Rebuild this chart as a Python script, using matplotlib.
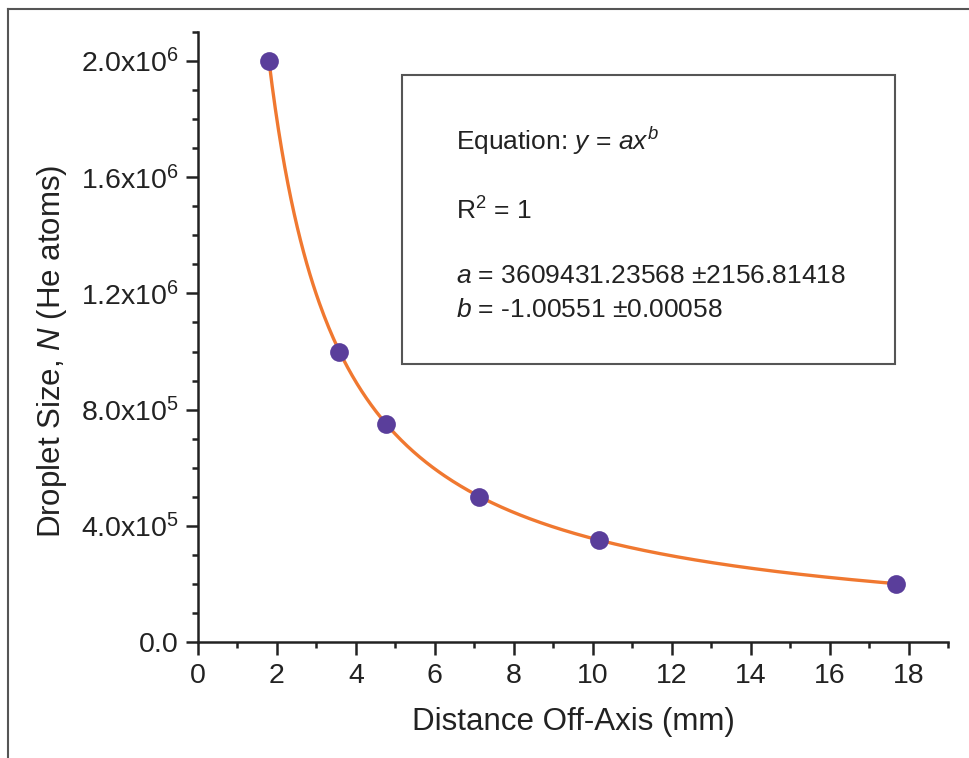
import numpy as np
import matplotlib
matplotlib.use("Agg")
import matplotlib.pyplot as plt
from matplotlib.ticker import MultipleLocator, FuncFormatter
from matplotlib.lines import Line2D
from matplotlib.patches import Rectangle

plt.rcParams["font.family"] = ["Liberation Sans", "DejaVu Sans"]
plt.rcParams["mathtext.fontset"] = "custom"
plt.rcParams["mathtext.rm"] = "Liberation Sans"
plt.rcParams["mathtext.it"] = "Liberation Sans:italic"
plt.rcParams["mathtext.bf"] = "Liberation Sans:bold"

# Measured droplet sizes vs. off-axis distance
distance_mm = [1.80, 3.57, 4.76, 7.12, 10.16, 17.68]
droplet_size = [2.0e6, 1.0e6, 7.5e5, 5.0e5, 3.5e5, 2.0e5]

# Power-law fit y = a * x^b
fit_a = 3609431.23568
fit_a_err = 2156.81418
fit_b = -1.00551
fit_b_err = 0.00058
fit_r2 = 1

W, H = 970, 758
fig = plt.figure(figsize=(W / 100, H / 100), dpi=100)

def fx(px):
    return px / W

def fy(py):
    return 1 - py / H

ax = fig.add_axes([fx(198), fy(642), fx(948) - fx(198), fy(32) - fy(642)])

xfit = np.linspace(min(distance_mm), max(distance_mm), 400)
yfit = fit_a * xfit ** fit_b
ax.plot(xfit, yfit, color="#F07830", lw=2.4, zorder=2)
ax.plot(distance_mm, droplet_size, "o", color="#5A3E9B", ms=13.5,
        mec="none", zorder=3)

ax.set_xlim(0, 19)
ax.set_ylim(0, 2.1e6)
ax.xaxis.set_major_locator(MultipleLocator(2))
ax.xaxis.set_minor_locator(MultipleLocator(1))
ax.yaxis.set_major_locator(MultipleLocator(4e5))
ax.yaxis.set_minor_locator(MultipleLocator(1e5))


def sci_fmt(v, pos):
    if abs(v) < 1:
        return "0.0"
    exp = int(np.floor(np.log10(abs(v))))
    mant = v / 10 ** exp
    return f"{mant:.1f}x10$^{{{exp}}}$"


ax.yaxis.set_major_formatter(FuncFormatter(sci_fmt))

for side in ("top", "right"):
    ax.spines[side].set_visible(False)
for side in ("left", "bottom"):
    ax.spines[side].set_linewidth(1.8)
    ax.spines[side].set_color("#222222")

ax.tick_params(which="major", direction="out", length=9, width=1.8,
               colors="#222222", labelsize=20.5)
ax.tick_params(which="minor", direction="out", length=4.5, width=1.8,
               colors="#222222")
ax.tick_params(axis="x", which="major", pad=6)
ax.tick_params(axis="y", which="major", pad=5)

ax.set_xlabel("Distance Off-Axis (mm)", fontsize=22.5, color="#222222",
              va="baseline")
ax.xaxis.set_label_coords(0.5, (642 - 730) / 610)
ax.set_ylabel("Droplet Size, $\\mathit{N}$ (He atoms)", fontsize=22.5,
              color="#222222", va="center")
ax.yaxis.set_label_coords((52 - 198) / 750, (642 - 351) / 610)

# Outer frame (top and left edges)
fig.add_artist(Line2D([fx(8), 1.0], [fy(9), fy(9)], color="#555555", lw=1.5))
fig.add_artist(Line2D([fx(8), fx(8)], [fy(9), 0.0], color="#555555", lw=1.5))

# Fit results box
fig.add_artist(Rectangle((fx(402), fy(364)), fx(895) - fx(402),
                         fy(75) - fy(364), fill=False, ec="#555555", lw=1.5))
txt_kw = dict(fontsize=19, color="#222222", ha="left", va="baseline")
fig.text(fx(456), fy(150), "Equation: $\\mathit{y}$ = $\\mathit{ax^b}$", **txt_kw)
fig.text(fx(456), fy(220), f"R$^2$ = {fit_r2}", **txt_kw)
fig.text(fx(456), fy(283),
         f"$\\mathit{{a}}$ = {fit_a:.5f} ±{fit_a_err:.5f}", **txt_kw)
fig.text(fx(456), fy(317),
         f"$\\mathit{{b}}$ = {fit_b:.5f} ±{fit_b_err:.5f}", **txt_kw)

fig.savefig("out.png", dpi=100)
